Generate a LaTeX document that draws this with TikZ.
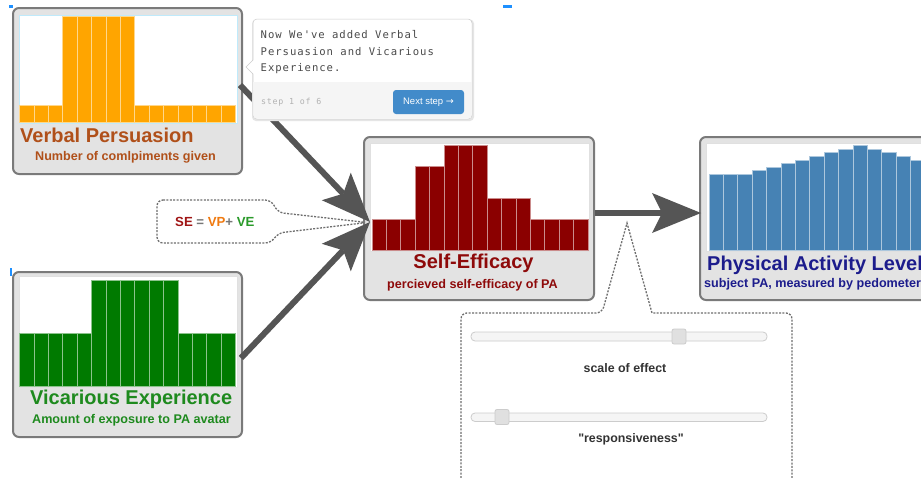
\documentclass[tikz,border=0pt]{standalone}
\usepackage{fontspec}
\setmainfont{Liberation Sans}
\newfontfamily\quotefont[Ligatures=TeXOff]{Liberation Sans}
\newfontfamily\tipfont[LetterSpace=9]{DejaVu Sans Mono}
\newfontfamily\arrowfont{DejaVu Sans}
\usetikzlibrary{arrows.meta,calc}
\definecolor{boxgray}{HTML}{7A7A7A}
\definecolor{boxfill}{HTML}{E3E3E3}
\definecolor{barorange}{HTML}{FFA500}
\definecolor{bargreen}{HTML}{007A00}
\definecolor{barred}{HTML}{8B0000}
\definecolor{barblue}{HTML}{4682B4}
\definecolor{vptext}{HTML}{B0501A}
\definecolor{vetext}{HTML}{1E8A1E}
\definecolor{setext}{HTML}{8E0A0A}
\definecolor{patext}{HTML}{1C1C8C}
\definecolor{arrowgray}{HTML}{555555}
\definecolor{dashgray}{HTML}{6E6E6E}
\definecolor{tiptext}{HTML}{4A4A4A}
\definecolor{tipborder}{HTML}{CCCCCC}
\definecolor{tipfoot}{HTML}{F5F5F5}
\definecolor{btnblue}{HTML}{428BCA}
\definecolor{eqred}{HTML}{A01515}
\definecolor{eqorange}{HTML}{F07A10}
\definecolor{eqgreen}{HTML}{2A9A2A}
\definecolor{eqgray}{HTML}{777777}
\definecolor{marker}{HTML}{1E90FF}
\definecolor{labeltext}{HTML}{333333}
\newcommand\drawbars[5]{%
  \foreach \t [count=\i from 0] in {#5} {
    \path[fill=#4, draw=white!55!#4, line width=0.8pt] ({#1+\i*#3},\t) rectangle ({#1+(\i+1)*#3},#2);
  }}
\tikzset{
  box/.style={draw=boxgray, fill=boxfill, line width=2pt, rounded corners=6pt, inner sep=0pt},
  chartarea/.style={fill=white, draw=black!12, line width=0.8pt},
  title/.style={anchor=base west, inner sep=0pt, font=\bfseries\fontsize{20}{20}\selectfont},
  subtitle/.style={anchor=base west, inner sep=0pt, font=\bfseries\fontsize{12.6}{13}\selectfont},
  bigarrow/.style={draw=arrowgray, line width=6pt, -{Stealth[length=49pt, width=40pt, inset=10pt, line width=0pt]}},
  dashline/.style={draw=dashgray, line width=1.3pt, dash pattern=on 2pt off 1.4pt},
  track/.style={draw=tipborder, fill=tipfoot, line width=0.8pt, rounded corners=4pt},
  handle/.style={draw=tipborder, fill=black!12, line width=0.8pt, rounded corners=2pt, minimum width=14pt, minimum height=15pt, inner sep=0pt},
  slabel/.style={anchor=base, inner sep=0pt, text=labeltext, font=\bfseries\fontsize{12.4}{13}\selectfont},
  tiptextstyle/.style={anchor=base west, inner sep=0pt, text=tiptext, font=\tipfont\fontsize{10.6}{12}\selectfont},
}
\begin{document}
\begin{tikzpicture}[x=1pt,y=-1pt]
\useasboundingbox (0,0) rectangle (921,477);
\clip (0,0) rectangle (921,477);
\fill[white] (0,0) rectangle (921,477);

% ---- boxes
\node[box, minimum width=229pt, minimum height=166pt] (vp) at (127.5,91) {};
\node[box, minimum width=229pt, minimum height=165pt] (ve) at (127.5,354.5) {};
\node[box, minimum width=230pt, minimum height=163pt] (se) at (479,218.5) {};
\node[box, minimum width=230pt, minimum height=163pt] (pa) at (815,218.5) {};

% ---- charts
\path[chartarea, draw=cyan!25] (19,15) rectangle (237,123);
\drawbars{19.5}{122.5}{14.4}{barorange}{105,105,105,16,16,16,16,16,105,105,105,105,105,105,105}
\path[chartarea] (19,276) rectangle (237,387);
\drawbars{19.5}{386}{14.4}{bargreen}{333,333,333,333,333,280,280,280,280,280,280,333,333,333,333}
\path[chartarea] (370,143) rectangle (589,251);
\drawbars{372}{250}{14.4}{barred}{219,219,219,166,166,145,145,145,198,198,198,219,219,219,219}
\path[chartarea] (706,143) rectangle (940,251);
\drawbars{709}{250.5}{14.4}{barblue}{174.3,174.3,174.3,170.7,167,163.3,160,156.3,152.7,149,145.3,149,152.7,156.3,160}

% ---- titles
\node[title, text=vptext] (vpt) at (20,142) {Verbal Persuasion};
\node[subtitle, text=vptext] (vps) at (35,160.5) {Number of comlpiments given};
\node[title, text=vetext] (vet) at (30,404) {Vicarious Experience};
\node[subtitle, text=vetext] (ves) at (32,423) {Amount of exposure to PA avatar};
\node[title, text=setext, anchor=base] (set) at (473.5,268.5) {Self-Efficacy};
\node[subtitle, text=setext, anchor=base] (ses) at (472.5,288) {percieved self-efficacy of PA};
\node[title, text=patext] (pat) at (707,270) {Physical Activity Level};
\node[subtitle, text=patext] (pas) at (704,287.5) {subject PA, measured by pedometer};

% ---- arrows
\coordinate (sein) at ($(se.west)+(7,3.5)$);
\draw[bigarrow] ($(vp.east)+(-3,-6)$) -- (sein);
\draw[bigarrow] ($(ve.east)+(-2,3.5)$) -- (sein);
\draw[bigarrow] ($(se.east)+(0,-5.5)$) -- ($(pa.west)+(2,-5.5)$);

% ---- equation callout
\coordinate (eqtip) at ($(se.west)+(4,4)$);
\draw[dashline, rounded corners=6pt] (157,200) -- (271,200) -- (278,212.5) -- (eqtip) -- (278,233) -- (271,243) -- (157,243) -- cycle;
\node[anchor=base west, inner sep=0pt, font=\bfseries\fontsize{13.2}{14}\selectfont] (eq) at (175,226.5)
  {\textcolor{eqred}{SE} \textcolor{eqgray}{=} \textcolor{eqorange}{VP}\textcolor{eqgray}{+} \textcolor{eqgreen}{VE}};

% ---- slider panel
\coordinate (paneltip) at (627,223);
\draw[dashline] (461,495) [rounded corners=6pt] -- (461,313) -- (602,313) [sharp corners] -- (paneltip) -- (652,313) [rounded corners=6pt] -- (792,313) -- (792,495);
\path[track] (471,332) rectangle (767,341);
\node[handle] (h1) at (679,336.5) {};
\node[slabel] (l1) at (625,372) {scale of effect};
\path[track] (471,413) rectangle (767,421.5);
\node[handle] (h2) at (502,417) {};
\node[slabel] (l2) at (631,442) {{\quotefont"}responsiveness{\quotefont"}};

% ---- tooltip
\fill[black!10, rounded corners=4pt] (252,19.5) rectangle (474,121);
\node[draw=tipborder, fill=white, rounded corners=4pt, line width=0.5pt, minimum width=219pt, minimum height=100pt, inner sep=0pt] (tip) at (362.5,69) {};
\fill[tipfoot, rounded corners=3.5pt] (253.3,82) rectangle (471.7,118.7);
\fill[tipfoot] (253.3,82) rectangle (471.7,90);
\fill[white] (254,59.5) -- (246,67) -- (254,74.5) -- cycle;
\draw[tipborder, line width=0.5pt] (253.2,59.8) -- (246,67) -- (253.2,74.2);
\node[tiptextstyle] (t1) at (260.5,38.5) {Now We've added Verbal};
\node[tiptextstyle] (t2) at (260.5,55) {Persuasion and Vicarious};
\node[tiptextstyle] (t3) at (260.5,71) {Experience.};
\node[anchor=base west, inner sep=0pt, text=black!30, font=\tipfont\fontsize{8.3}{10}\selectfont] (step) at (261,104.5) {step 1 of 6};
\node[fill=btnblue, rounded corners=3pt, minimum width=71pt, minimum height=24pt, inner sep=0pt, text=white, font=\fontsize{9.5}{10}\selectfont] (next) at (428.5,102) {Next step {\arrowfont →}};

% ---- small blue markers
\fill[marker] (9,5) rectangle (13,7.5);
\fill[marker] (503,5) rectangle (512,7.5);
\fill[marker] (9.5,268) rectangle (12,276);
\end{tikzpicture}
\end{document}
